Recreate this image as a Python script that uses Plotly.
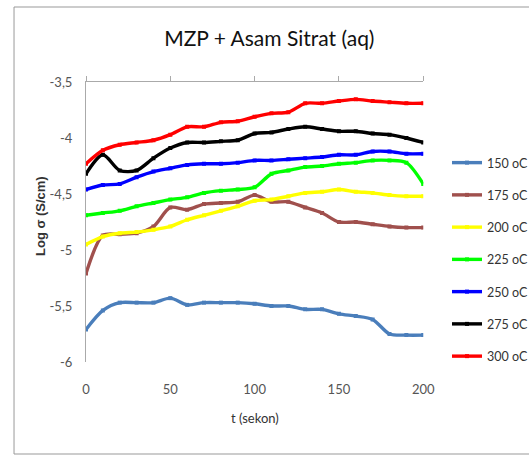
import plotly.graph_objects as go

t = [0, 10, 20, 30, 40, 50, 60, 70, 80, 90, 100, 110, 120, 130, 140, 150, 160, 170, 180, 190, 200]

s150 = [-5.71, -5.54, -5.47, -5.47, -5.47, -5.43, -5.49, -5.47, -5.47, -5.47, -5.48,
        -5.50, -5.50, -5.53, -5.53, -5.57, -5.59, -5.62, -5.75, -5.76, -5.76]
s175 = [-5.21, -4.87, -4.86, -4.85, -4.79, -4.62, -4.64, -4.59, -4.58, -4.57, -4.51,
        -4.57, -4.57, -4.62, -4.67, -4.75, -4.75, -4.77, -4.79, -4.80, -4.80]
s200 = [-4.95, -4.88, -4.85, -4.84, -4.82, -4.79, -4.73, -4.69, -4.65, -4.61, -4.56,
        -4.55, -4.52, -4.49, -4.48, -4.46, -4.48, -4.49, -4.51, -4.52, -4.52]
s225 = [-4.69, -4.67, -4.65, -4.61, -4.58, -4.55, -4.53, -4.49, -4.47, -4.46, -4.44,
        -4.32, -4.29, -4.26, -4.25, -4.23, -4.22, -4.20, -4.20, -4.22, -4.41]
s250 = [-4.46, -4.42, -4.41, -4.35, -4.30, -4.27, -4.24, -4.23, -4.23, -4.22, -4.20,
        -4.20, -4.19, -4.18, -4.17, -4.15, -4.15, -4.12, -4.12, -4.14, -4.14]
s275 = [-4.32, -4.15, -4.29, -4.29, -4.18, -4.09, -4.04, -4.04, -4.03, -4.02, -3.96,
        -3.95, -3.92, -3.90, -3.92, -3.94, -3.94, -3.96, -3.97, -4.00, -4.04]
s300 = [-4.23, -4.11, -4.06, -4.04, -4.02, -3.97, -3.90, -3.90, -3.86, -3.85, -3.81,
        -3.78, -3.77, -3.69, -3.69, -3.67, -3.655, -3.67, -3.68, -3.69, -3.69]

series_names = ["150 oC", "175 oC", "200 oC", "225 oC", "250 oC", "275 oC", "300 oC"]
series_values = [s150, s175, s200, s225, s250, s275, s300]
series_colors = ["#4A7EBB", "#A0504D", "#FFFF00", "#00FF00", "#0000FF", "#000000", "#FF0000"]

x_ticks = [0, 50, 100, 150, 200]
y_ticks = [-6, -5.5, -5, -4.5, -4, -3.5]
y_tick_labels = ["-6", "-5,5", "-5", "-4,5", "-4", "-3,5"]

FONT = "Lato, Liberation Sans, sans-serif"

fig = go.Figure()
for i, (name, vals, col) in enumerate(zip(series_names, series_values, series_colors)):
    fig.add_trace(go.Scatter(
        x=t, y=vals, name=name, mode="lines+markers",
        line=dict(color=col, width=3.4, shape="spline", smoothing=0.8),
        marker=dict(color=col, size=4, symbol="square"),
        legendgroup=f"g{i}",
    ))

# top axis line with ticks
fig.add_trace(go.Scatter(x=[0], y=[-3.5], xaxis="x2", yaxis="y", mode="markers",
                         marker=dict(opacity=0), showlegend=False, hoverinfo="skip"))

fig.update_layout(
    width=529, height=455,
    margin=dict(l=86, r=101, t=82, b=93),
    paper_bgcolor="white", plot_bgcolor="white",
    font=dict(family=FONT, color="#444"),
    title=dict(text="MZP + Asam Sitrat (aq)", x=0.509, xref="container", xanchor="center",
               y=1 - 39 / 455, yref="container", yanchor="middle",
               font=dict(family=FONT, size=21, color="#111")),
    xaxis=dict(range=[0, 200], tickvals=x_ticks, showgrid=False, zeroline=False,
               showline=False, ticks="", ticklabelstandoff=18,
               tickfont=dict(family=FONT, size=13, color="#555")),
    xaxis2=dict(range=[0, 200], overlaying="x", side="top", tickvals=x_ticks,
                showticklabels=False, showgrid=False, zeroline=False,
                showline=True, linecolor="#AAAAAA", linewidth=1,
                ticks="outside", ticklen=5, tickcolor="#AAAAAA"),
    yaxis=dict(range=[-6, -3.5], tickvals=y_ticks, ticktext=y_tick_labels,
               showgrid=False, zeroline=False, showline=True, linecolor="#AAAAAA",
               linewidth=1, ticks="", ticklabelstandoff=10,
               tickfont=dict(family=FONT, size=13, color="#555")),
    legend=dict(x=447 / 529, xref="container", xanchor="left",
                y=1 - 148 / 455, yref="container", yanchor="top",
                font=dict(family=FONT, size=12.5, color="#333"),
                tracegroupgap=13, itemwidth=30, bgcolor="rgba(0,0,0,0)"),
    annotations=[
        dict(text="t (sekon)", xref="paper", yref="paper", x=0.5, y=0,
             yshift=-56, showarrow=False, xanchor="center", yanchor="middle",
             font=dict(family=FONT, size=13, color="#333")),
        dict(text="<b>Log σ (S/cm)</b>", xref="paper", yref="paper", x=0, y=0.5,
             xshift=-46, yshift=6, textangle=-90, showarrow=False,
             xanchor="center", yanchor="middle",
             font=dict(family="Liberation Sans, Arial, sans-serif", size=13, color="#333")),
    ],
    shapes=[
        dict(type="rect", xref="paper", yref="paper",
             x0=(13 - 86) / 342, x1=(560 - 86) / 342,
             y0=-(454 - 362) / 280, y1=1 + (82 - 7) / 280,
             line=dict(color="#999999", width=1), fillcolor="rgba(0,0,0,0)", layer="below"),
    ],
)

fig.write_html("out.html")
